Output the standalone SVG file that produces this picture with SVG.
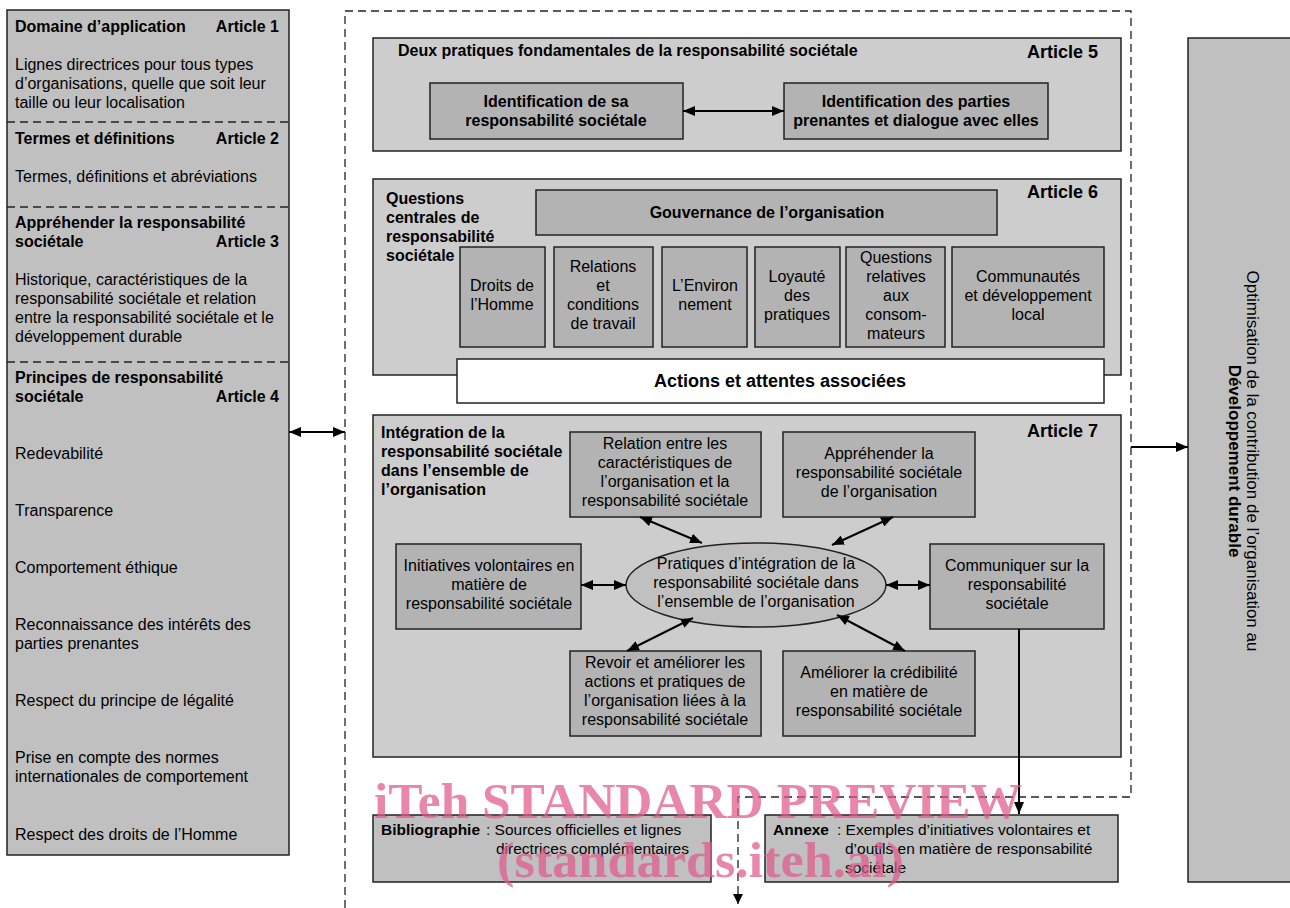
<svg xmlns="http://www.w3.org/2000/svg" width="1290" height="908" viewBox="0 0 1290 908">
<defs>
<marker id="ah" viewBox="0 0 12 10" refX="12" refY="5" markerWidth="12" markerHeight="10" markerUnits="userSpaceOnUse" orient="auto-start-reverse"><path d="M0,0 L12,5 L0,10 z" fill="#000"/></marker>
<marker id="ahs" viewBox="0 0 10 10" refX="10" refY="5" markerWidth="10" markerHeight="10" markerUnits="userSpaceOnUse" orient="auto"><path d="M0,0 L10,5 L0,10 z" fill="#000"/></marker>
</defs>
<style>
text{font-family:"Liberation Sans",Arial,sans-serif;font-size:16px;fill:#000}
.b{font-weight:bold}
.c{text-anchor:middle}
.e{text-anchor:end}
.art{font-weight:bold;font-size:18px;text-anchor:end}
.sm{font-size:15.5px}
.panel{fill:#c0c0c0;stroke:#222;stroke-width:1.5}
.sec{fill:#cdcdcd;stroke:#222;stroke-width:1.5}
.box{fill:#b3b3b3;stroke:#222;stroke-width:1.5}
.sep{stroke:#222;stroke-width:1.3;stroke-dasharray:8,5;fill:none}
.arr{stroke:#000;stroke-width:2;fill:none}
.wm{font-family:"Liberation Serif","Times New Roman",serif;font-weight:bold;font-size:51px;fill:#e05a8a;opacity:0.72}
</style>

<g id="left-panel">
<rect class="panel" x="7" y="10" width="282" height="845"/>
<line class="sep" x1="7" y1="122" x2="289" y2="122"/>
<line class="sep" x1="7" y1="207" x2="289" y2="207"/>
<line class="sep" x1="7" y1="362" x2="289" y2="362"/>
<text class="b" x="15" y="32">Domaine d’application</text>
<text class="b e" x="279" y="32">Article 1</text>
<text x="15" y="70">Lignes directrices pour tous types</text>
<text x="15" y="89">d’organisations, quelle que soit leur</text>
<text x="15" y="108">taille ou leur localisation</text>
<text class="b" x="15" y="144">Termes et définitions</text>
<text class="b e" x="279" y="144">Article 2</text>
<text x="15" y="182">Termes, définitions et abréviations</text>
<text class="b" x="15" y="228">Appréhender la responsabilité</text>
<text class="b" x="15" y="247">sociétale</text>
<text class="b e" x="279" y="247">Article 3</text>
<text x="15" y="285">Historique, caractéristiques de la</text>
<text x="15" y="304">responsabilité sociétale et relation</text>
<text x="15" y="323">entre la responsabilité sociétale et le</text>
<text x="15" y="342">développement durable</text>
<text class="b" x="15" y="383">Principes de responsabilité</text>
<text class="b" x="15" y="402">sociétale</text>
<text class="b e" x="279" y="402">Article 4</text>
<text x="15" y="459">Redevabilité</text>
<text x="15" y="516">Transparence</text>
<text x="15" y="573">Comportement éthique</text>
<text x="15" y="630">Reconnaissance des intérêts des</text>
<text x="15" y="649">parties prenantes</text>
<text x="15" y="706">Respect du principe de légalité</text>
<text x="15" y="763">Prise en compte des normes</text>
<text x="15" y="782">internationales de comportement</text>
<text x="15" y="840">Respect des droits de l’Homme</text>
</g>

<g id="article5">
<rect class="sec" x="373" y="38" width="748" height="113"/>
<text class="b" x="398" y="56">Deux pratiques fondamentales de la responsabilité sociétale</text>
<text class="art" x="1098" y="58">Article 5</text>
</g>
<g id="identification-rs">
<rect class="box" x="430" y="83" width="253" height="56"/>
<text class="b c" x="556" y="107">Identification de sa</text>
<text class="b c" x="556" y="126">responsabilité sociétale</text>
</g>
<g id="identification-pp">
<rect class="box" x="784" y="83" width="264" height="56"/>
<text class="b c" x="916" y="107">Identification des parties</text>
<text class="b c" x="916" y="126">prenantes et dialogue avec elles</text>
</g>

<g id="article6">
<rect class="sec" x="373" y="179" width="748" height="196"/>
<text class="b" x="386" y="204">Questions</text>
<text class="b" x="386" y="223">centrales de</text>
<text class="b" x="386" y="242">responsabilité</text>
<text class="b" x="386" y="261">sociétale</text>
<text class="art" x="1098" y="198">Article 6</text>
</g>
<g id="gouvernance">
<rect class="box" x="536" y="190" width="461" height="45"/>
<text class="b c" x="767" y="218">Gouvernance de l’organisation</text>
</g>
<g id="droits-homme">
<rect class="box" x="460" y="247" width="85" height="100"/>
<text class="c" x="502" y="291">Droits de</text>
<text class="c" x="502" y="310">l’Homme</text>
</g>
<g id="relations-travail">
<rect class="box" x="554" y="247" width="99" height="100"/>
<text class="c" x="603" y="272">Relations</text>
<text class="c" x="603" y="291">et</text>
<text class="c" x="603" y="310">conditions</text>
<text class="c" x="603" y="329">de travail</text>
</g>
<g id="environnement">
<rect class="box" x="662" y="247" width="85" height="100"/>
<text class="c" x="705" y="291">L’Environ</text>
<text class="c" x="705" y="310">nement</text>
</g>
<g id="loyaute">
<rect class="box" x="755" y="247" width="85" height="100"/>
<text class="c" x="797" y="282">Loyauté</text>
<text class="c" x="797" y="301">des</text>
<text class="c" x="797" y="320">pratiques</text>
</g>
<g id="consommateurs">
<rect class="box" x="846" y="247" width="99" height="100"/>
<text class="c" x="896" y="263">Questions</text>
<text class="c" x="896" y="282">relatives</text>
<text class="c" x="896" y="301">aux</text>
<text class="c" x="896" y="320">consom-</text>
<text class="c" x="896" y="339">mateurs</text>
</g>
<g id="communautes">
<rect class="box" x="952" y="247" width="152" height="100"/>
<text class="c" x="1028" y="282">Communautés</text>
<text class="c" x="1028" y="301">et développement</text>
<text class="c" x="1028" y="320">local</text>
</g>
<g id="actions-attentes">
<rect x="457" y="359" width="647" height="44" fill="#fff" stroke="#222" stroke-width="1.5"/>
<text class="b c" x="780" y="387" style="font-size:18px">Actions et attentes associées</text>
</g>

<g id="article7">
<rect class="sec" x="373" y="415" width="748" height="342"/>
<text class="b" x="381" y="438">Intégration de la</text>
<text class="b" x="381" y="457">responsabilité sociétale</text>
<text class="b" x="381" y="476">dans l’ensemble de</text>
<text class="b" x="381" y="495">l’organisation</text>
<text class="art" x="1098" y="437">Article 7</text>
</g>
<g id="relation-caracteristiques">
<rect class="box" x="570" y="432" width="191" height="85"/>
<text class="c" x="665" y="449">Relation entre les</text>
<text class="c" x="665" y="468">caractéristiques de</text>
<text class="c" x="665" y="487">l’organisation et la</text>
<text class="c" x="665" y="506">responsabilité sociétale</text>
</g>
<g id="apprehender-rs">
<rect class="box" x="783" y="432" width="192" height="85"/>
<text class="c" x="879" y="459">Appréhender la</text>
<text class="c" x="879" y="478">responsabilité sociétale</text>
<text class="c" x="879" y="497">de l’organisation</text>
</g>
<g id="initiatives">
<rect class="box" x="396" y="544" width="185" height="85"/>
<text class="c" x="489" y="571">Initiatives volontaires en</text>
<text class="c" x="489" y="590">matière de</text>
<text class="c" x="489" y="609">responsabilité sociétale</text>
</g>
<g id="pratiques-integration">
<ellipse cx="756" cy="585" rx="130" ry="42" fill="#c0c0c0" stroke="#222" stroke-width="1.5"/>
<text class="c" x="756" y="569">Pratiques d’intégration de la</text>
<text class="c" x="756" y="588">responsabilité sociétale dans</text>
<text class="c" x="756" y="607">l’ensemble de l’organisation</text>
</g>
<g id="communiquer">
<rect class="box" x="930" y="544" width="174" height="85"/>
<text class="c" x="1017" y="571">Communiquer sur la</text>
<text class="c" x="1017" y="590">responsabilité</text>
<text class="c" x="1017" y="609">sociétale</text>
</g>
<g id="revoir">
<rect class="box" x="570" y="651" width="191" height="85"/>
<text class="c" x="665" y="668">Revoir et améliorer les</text>
<text class="c" x="665" y="687">actions et pratiques de</text>
<text class="c" x="665" y="706">l’organisation liées à la</text>
<text class="c" x="665" y="725">responsabilité sociétale</text>
</g>
<g id="ameliorer">
<rect class="box" x="783" y="651" width="192" height="85"/>
<text class="c" x="879" y="678">Améliorer la crédibilité</text>
<text class="c" x="879" y="697">en matière de</text>
<text class="c" x="879" y="716">responsabilité sociétale</text>
</g>

<g id="bibliographie">
<rect class="panel" x="373" y="815" width="338" height="67"/>
<text class="b sm" x="381" y="835">Bibliographie</text>
<text class="sm" x="486" y="835">: Sources officielles et lignes</text>
<text class="sm" x="496" y="854">directrices complémentaires</text>
</g>
<g id="annexe">
<rect class="panel" x="765" y="815" width="353" height="67"/>
<text class="b sm" x="773" y="835">Annexe</text>
<text class="sm" x="837" y="835">: Exemples d’initiatives volontaires et</text>
<text class="sm" x="845" y="854">d’outils en  matière de responsabilité</text>
<text class="sm" x="845" y="873">sociétale</text>
</g>

<g id="developpement-durable">
<rect class="panel" x="1188" y="38" width="110" height="844"/>
<g transform="translate(1244,461) rotate(90)">
<text class="c" x="0" y="-3" style="font-size:17px">Optimisation de la contribution de l’organisation au</text>
<text class="c b" x="0" y="15" style="font-size:17px">Développement durable</text>
</g>
</g>

<g id="connectors">
<path class="sep" d="M345,908 V11 H1131 V797 H738 V904" marker-end="url(#ahs)"/>
<line class="arr" x1="289" y1="432" x2="345" y2="432" marker-start="url(#ah)" marker-end="url(#ah)"/>
<line class="arr" x1="683" y1="111" x2="784" y2="111" marker-start="url(#ah)" marker-end="url(#ah)"/>
<line class="arr" x1="640" y1="517" x2="702" y2="543" marker-start="url(#ah)" marker-end="url(#ah)"/>
<line class="arr" x1="893" y1="517" x2="832" y2="545" marker-start="url(#ah)" marker-end="url(#ah)"/>
<line class="arr" x1="581" y1="585" x2="626" y2="585" marker-start="url(#ah)" marker-end="url(#ah)"/>
<line class="arr" x1="886" y1="585" x2="930" y2="585" marker-start="url(#ah)" marker-end="url(#ah)"/>
<line class="arr" x1="627" y1="651" x2="693" y2="618" marker-start="url(#ah)" marker-end="url(#ah)"/>
<line class="arr" x1="905" y1="651" x2="837" y2="615" marker-start="url(#ah)" marker-end="url(#ah)"/>
<line class="arr" x1="1019" y1="629" x2="1019" y2="814" marker-end="url(#ah)"/>
<line class="arr" x1="1131" y1="447" x2="1188" y2="447" marker-end="url(#ah)"/>
</g>

<g id="watermark">
<text class="wm" x="374" y="818" textLength="648" lengthAdjust="spacingAndGlyphs">iTeh STANDARD PREVIEW</text>
<text class="wm" x="497" y="877" textLength="407" lengthAdjust="spacingAndGlyphs">(standards.iteh.ai)</text>
</g>
</svg>
